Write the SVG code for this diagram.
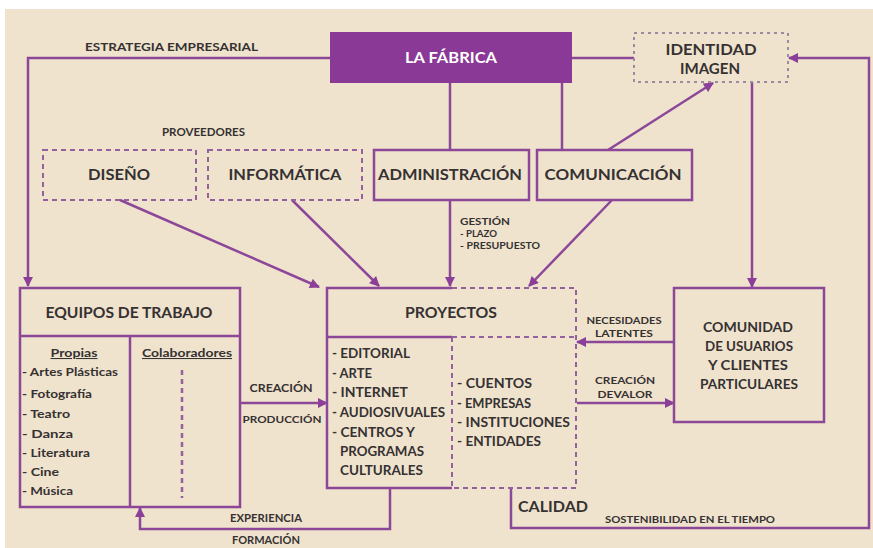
<svg xmlns="http://www.w3.org/2000/svg" width="873" height="548" viewBox="0 0 873 548">
<defs>
<marker id="ah" viewBox="0 0 10 10" refX="9" refY="5" markerWidth="11" markerHeight="10" markerUnits="userSpaceOnUse" orient="auto">
<path d="M0,0 L10,5 L0,10 z" fill="#8c3f98"/>
</marker>
<style>
.bg{fill:#efe3cd}
.ln{fill:none;stroke:#8c4799;stroke-width:2.5}
.sb{fill:none;stroke:#8c4799;stroke-width:2.5}
.db{fill:none;stroke:#94609e;stroke-width:2;stroke-dasharray:5,4}
.gb{fill:none;stroke:#9a8ba0;stroke-width:2;stroke-dasharray:3,4}
.t{font-family:Lato,"Open Sans",sans-serif;font-weight:700;fill:#363132}
.m{text-anchor:middle}
.tb{font-size:15px;text-anchor:middle}
.ts{font-size:10.5px}
.tl{font-size:11.5px}
.tc{font-size:12.5px}
</style>
</defs>
<rect x="0" y="0" width="873" height="548" fill="#ffffff"/>
<rect class="bg" x="5" y="9" width="868" height="539"/>

<g id="connectors">
<path class="ln" d="M330,58 H28 V286" marker-end="url(#ah)"/>
<path class="ln" d="M572,58 H634"/>
<path class="ln" d="M450,83 V150"/>
<path class="ln" d="M562,83 V150"/>
<path class="ln" d="M120,200 L319,287" marker-end="url(#ah)"/>
<path class="ln" d="M292,200 L379,286" marker-end="url(#ah)"/>
<path class="ln" d="M450,200 V286" marker-end="url(#ah)"/>
<path class="ln" d="M612,200 L529,286" marker-end="url(#ah)"/>
<path class="ln" d="M608,150 L713,83" marker-end="url(#ah)"/>
<path class="ln" d="M752,82 V287" marker-end="url(#ah)"/>
<path class="ln" d="M511,488 V528 H869 V58 H789" marker-end="url(#ah)"/>
<path class="ln" d="M390,488 V529 H140 V508" marker-end="url(#ah)"/>
<path class="ln" d="M240,403 H327" marker-end="url(#ah)"/>
<path class="ln" d="M674,342 H577" marker-end="url(#ah)"/>
<path class="ln" d="M577,403 H674" marker-end="url(#ah)"/>
</g>

<g id="fabrica">
<rect x="330" y="32" width="242" height="51" fill="#8a3996"/>
<text class="t tb" x="451" y="63" textLength="92" lengthAdjust="spacingAndGlyphs" style="fill:#ffffff">LA FÁBRICA</text>
</g>

<g id="identidad">
<rect class="gb" x="634" y="33" width="154" height="49"/>
<text class="t tb" x="711" y="55" textLength="91" lengthAdjust="spacingAndGlyphs">IDENTIDAD</text>
<text class="t tb" x="710" y="74" textLength="60" lengthAdjust="spacingAndGlyphs">IMAGEN</text>
</g>

<g id="labels-top">
<text class="t ts" x="85" y="51" textLength="173" lengthAdjust="spacingAndGlyphs">ESTRATEGIA EMPRESARIAL</text>
<text class="t ts" x="162" y="136" textLength="83" lengthAdjust="spacingAndGlyphs">PROVEEDORES</text>
<text class="t" x="460" y="225" style="font-size:9.5px" textLength="50" lengthAdjust="spacingAndGlyphs">GESTIÓN</text>
<text class="t" x="460" y="237" style="font-size:9.5px" textLength="37" lengthAdjust="spacingAndGlyphs">- PLAZO</text>
<text class="t" x="460" y="249" style="font-size:9.5px" textLength="80" lengthAdjust="spacingAndGlyphs">- PRESUPUESTO</text>
</g>

<g id="diseno">
<rect class="db" x="43" y="150" width="153" height="50"/>
<text class="t tb" x="119" y="180" textLength="62" lengthAdjust="spacingAndGlyphs">DISEÑO</text>
</g>
<g id="informatica">
<rect class="db" x="208" y="150" width="154" height="50"/>
<text class="t tb" x="285" y="180" textLength="113" lengthAdjust="spacingAndGlyphs">INFORMÁTICA</text>
</g>
<g id="administracion">
<rect class="sb" x="374" y="150" width="155" height="50"/>
<text class="t tb" x="450" y="180" textLength="144" lengthAdjust="spacingAndGlyphs">ADMINISTRACIÓN</text>
</g>
<g id="comunicacion">
<rect class="sb" x="537" y="150" width="155" height="50"/>
<text class="t tb" x="613" y="180" textLength="137" lengthAdjust="spacingAndGlyphs">COMUNICACIÓN</text>
</g>

<g id="equipos">
<rect class="sb" x="20" y="288" width="220" height="219"/>
<path class="sb" d="M20,336 H240 M130,336 V507"/>
<path fill="none" stroke="#94609e" stroke-width="2.5" stroke-dasharray="5,4" d="M182,370 V498"/>
<text class="t tb" x="129" y="318" textLength="167" lengthAdjust="spacingAndGlyphs">EQUIPOS DE TRABAJO</text>
<text class="t m" x="74" y="357" text-decoration="underline" style="font-size:10.5px" textLength="47" lengthAdjust="spacingAndGlyphs">Propias</text>
<text class="t m" x="187" y="357" text-decoration="underline" style="font-size:10.5px" textLength="90" lengthAdjust="spacingAndGlyphs">Colaboradores</text>
<text class="t tl" x="22" y="376" textLength="96" lengthAdjust="spacingAndGlyphs">- Artes Plásticas</text>
<text class="t tl" x="22" y="398" textLength="70" lengthAdjust="spacingAndGlyphs">- Fotografía</text>
<text class="t tl" x="22" y="418" textLength="48" lengthAdjust="spacingAndGlyphs">- Teatro</text>
<text class="t tl" x="22" y="438" textLength="51" lengthAdjust="spacingAndGlyphs">- Danza</text>
<text class="t tl" x="22" y="457" textLength="68" lengthAdjust="spacingAndGlyphs">- Literatura</text>
<text class="t tl" x="22" y="476" textLength="37" lengthAdjust="spacingAndGlyphs">- Cine</text>
<text class="t tl" x="22" y="495" textLength="51" lengthAdjust="spacingAndGlyphs">- Música</text>
</g>

<g id="proyectos">
<path class="sb" d="M452,288 H327 V488 H452 M327,337 H452"/>
<path class="db" d="M452,288 H576 V488 H452 M452,337 H576 M452,337 V488"/>
<text class="t tb" x="451" y="318" textLength="92" lengthAdjust="spacingAndGlyphs">PROYECTOS</text>
<text class="t tc" x="332" y="358" textLength="78" lengthAdjust="spacingAndGlyphs">- EDITORIAL</text>
<text class="t tc" x="332" y="378" textLength="40" lengthAdjust="spacingAndGlyphs">- ARTE</text>
<text class="t tc" x="332" y="397" textLength="76" lengthAdjust="spacingAndGlyphs">- INTERNET</text>
<text class="t tc" x="332" y="417" textLength="113" lengthAdjust="spacingAndGlyphs">- AUDIOSIVUALES</text>
<text class="t tc" x="332" y="437" textLength="83" lengthAdjust="spacingAndGlyphs">- CENTROS Y</text>
<text class="t tc" x="340" y="456" textLength="84" lengthAdjust="spacingAndGlyphs">PROGRAMAS</text>
<text class="t tc" x="340" y="475" textLength="83" lengthAdjust="spacingAndGlyphs">CULTURALES</text>
<text class="t tc" x="457" y="388" textLength="75" lengthAdjust="spacingAndGlyphs">- CUENTOS</text>
<text class="t tc" x="457" y="408" textLength="74" lengthAdjust="spacingAndGlyphs">- EMPRESAS</text>
<text class="t tc" x="457" y="427" textLength="113" lengthAdjust="spacingAndGlyphs">- INSTITUCIONES</text>
<text class="t tc" x="457" y="446" textLength="84" lengthAdjust="spacingAndGlyphs">- ENTIDADES</text>
</g>

<g id="comunidad">
<rect class="sb" x="674" y="288" width="150" height="134"/>
<text class="t tb" x="748" y="332" style="font-size:14px" textLength="90" lengthAdjust="spacingAndGlyphs">COMUNIDAD</text>
<text class="t tb" x="749" y="351" style="font-size:14px" textLength="88" lengthAdjust="spacingAndGlyphs">DE USUARIOS</text>
<text class="t tb" x="748" y="370" style="font-size:14px" textLength="80" lengthAdjust="spacingAndGlyphs">Y CLIENTES</text>
<text class="t tb" x="749" y="389" style="font-size:14px" textLength="98" lengthAdjust="spacingAndGlyphs">PARTICULARES</text>
</g>

<g id="labels-bottom">
<text class="t m" x="624" y="324" style="font-size:9.5px" textLength="75" lengthAdjust="spacingAndGlyphs">NECESIDADES</text>
<text class="t m" x="624" y="337" style="font-size:9.5px" textLength="58" lengthAdjust="spacingAndGlyphs">LATENTES</text>
<text class="t m" x="625" y="384" style="font-size:9.5px" textLength="60" lengthAdjust="spacingAndGlyphs">CREACIÓN</text>
<text class="t m" x="625" y="398" style="font-size:9.5px" textLength="55" lengthAdjust="spacingAndGlyphs">DEVALOR</text>
<text class="t m" x="281" y="392" style="font-size:10.5px" textLength="63" lengthAdjust="spacingAndGlyphs">CREACIÓN</text>
<text class="t m" x="282" y="423" style="font-size:10px" textLength="79" lengthAdjust="spacingAndGlyphs">PRODUCCIÓN</text>
<text class="t m" x="553" y="512" style="font-size:15px" textLength="70" lengthAdjust="spacingAndGlyphs">CALIDAD</text>
<text class="t m" x="690" y="523" style="font-size:10px" textLength="170" lengthAdjust="spacingAndGlyphs">SOSTENIBILIDAD EN EL TIEMPO</text>
<text class="t m" x="266" y="522" style="font-size:10.5px" textLength="72" lengthAdjust="spacingAndGlyphs">EXPERIENCIA</text>
<text class="t m" x="266" y="544" style="font-size:10.5px" textLength="68" lengthAdjust="spacingAndGlyphs">FORMACIÓN</text>
</g>
</svg>
